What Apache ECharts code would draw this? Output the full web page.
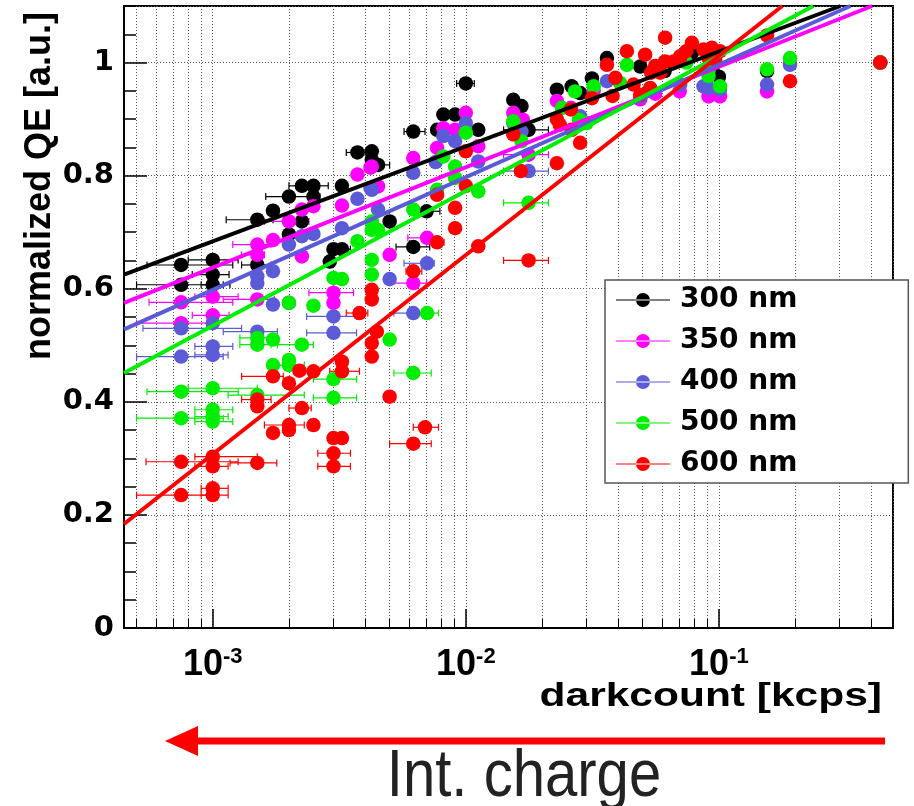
<!DOCTYPE html>
<html>
<head>
<meta charset="utf-8">
<script src="https://cdn.jsdelivr.net/npm/echarts/dist/echarts.min.js"></script>
<style>
  html, body { margin: 0; padding: 0; background: #fff; }
  #qe_chart { width: 914px; height: 806px; }
</style>
</head>
<body>
<div id="qe_chart"></div>
<script>
// 图例名称
var names = ['300 nm', '350 nm', '400 nm', '500 nm', '600 nm'];

// 每个点: [darkcount, QE] 或 [darkcount, QE, 误差下限, 误差上限]
var qe300 = [
  [7.5e-4,0.642,5.5e-4,1.2e-3],[7.5e-4,0.607,5.0e-4,1.17e-3],[1.0e-3,0.651,8.0e-4,1.26e-3],
  [1.0e-3,0.625,8.3e-4,1.16e-3],[1.0e-3,0.607,9.0e-4,1.1e-3],[1.5e-3,0.642,1.3e-3,1.7e-3],
  [1.5e-3,0.722,1.13e-3,1.73e-3],[1.73e-3,0.738],[2.0e-3,0.763,1.62e-3,2.65e-3],
  [2.25e-3,0.782,2.0e-3,2.62e-3],[2.5e-3,0.782,2.2e-3,2.86e-3],[3.24e-3,0.782],[2.5e-3,0.763],
  [2.25e-3,0.719],[2.0e-3,0.696],[3.0e-3,0.670],[3.24e-3,0.670,2.9e-3,3.5e-3],[2.9e-3,0.648],
  [3.73e-3,0.841,3.37e-3,4.0e-3],[4.25e-3,0.843],[4.25e-3,0.828],[4.5e-3,0.819,4.2e-3,5.0e-3],
  [5.0e-3,0.719],[6.2e-3,0.878,5.7e-3,6.9e-3],[6.2e-3,0.674,5.3e-3,7.2e-3],[7.0e-3,0.737,6.2e-3,7.9e-3],
  [7.7e-3,0.881],[8.15e-3,0.908],[9.07e-3,0.908],[1.0e-2,0.963,9.2e-3,1.08e-2],[1.12e-2,0.881],
  [1.54e-2,0.934],[1.66e-2,0.923],[1.77e-2,0.881,1.41e-2,2.12e-2],[2.29e-2,0.952],[2.62e-2,0.958],
  [2.83e-2,0.946],[3.15e-2,0.972],[3.61e-2,1.008],[4.89e-2,0.993],[6.1e-2,0.985],[7.82e-2,1.017],
  [9.4e-2,0.99],[0.1,0.975],[0.155,0.985],[0.434,1.0]
];
var qe350 = [
  [7.5e-4,0.576,5.6e-4,1.2e-3],[7.5e-4,0.539,5.0e-4,9.5e-4],[1.0e-3,0.586,8.5e-4,1.26e-3],
  [1.0e-3,0.553,8.3e-4,1.16e-3],[1.5e-3,0.581,1.1e-3,1.75e-3],[1.5e-3,0.678,1.2e-3,1.7e-3],
  [1.5e-3,0.660,1.3e-3,1.6e-3],[1.73e-3,0.686],[2.0e-3,0.719,1.6e-3,2.4e-3],[2.25e-3,0.740],
  [2.5e-3,0.746],[2.25e-3,0.657],[3.24e-3,0.747],[3.0e-3,0.593,2.4e-3,3.6e-3],[3.0e-3,0.575],
  [3.73e-3,0.802],[4.2e-3,0.814],[4.25e-3,0.816],[4.5e-3,0.781],[5.0e-3,0.660],[6.2e-3,0.831],
  [6.2e-3,0.610,5.0e-3,7.0e-3],[7.03e-3,0.690,5.9e-3,7.3e-3],[7.7e-3,0.849],[8.15e-3,0.884],
  [9.07e-3,0.881],[1.0e-2,0.911],[1.12e-2,0.852],[1.54e-2,0.911],[1.68e-2,0.899],
  [1.77e-2,0.837,1.41e-2,2.12e-2],[2.29e-2,0.932],[2.6e-2,0.92],[3.2e-2,0.95],[4.89e-2,0.935],
  [5.6e-2,0.945],[7.0e-2,0.949],[9.1e-2,0.940],[0.101,0.940],[0.155,0.949],[0.191,0.999],[0.434,1.0]
];
var qe400 = [
  [7.5e-4,0.530,5.3e-4,1.3e-3],[7.5e-4,0.480,5.0e-4,1.1e-3],[1.0e-3,0.539],[1.0e-3,0.498,8.5e-4,1.2e-3],
  [1.0e-3,0.483,8.5e-4,1.15e-3],[1.5e-3,0.524,1.1e-3,1.8e-3],[1.5e-3,0.622],[1.5e-3,0.610],
  [1.73e-3,0.631],[1.73e-3,0.572],[2.0e-3,0.678],[2.0e-3,0.575],[2.25e-3,0.693],[2.5e-3,0.697],
  [3.24e-3,0.707],[3.0e-3,0.551,2.35e-3,3.7e-3],[3.0e-3,0.522,2.35e-3,3.7e-3],[3.73e-3,0.759],
  [4.2e-3,0.778],[4.25e-3,0.775],[4.5e-3,0.740],[5.0e-3,0.617],[6.2e-3,0.805],
  [6.2e-3,0.557,5.2e-3,7.0e-3],[7.03e-3,0.645,5.7e-3,7.5e-3],[7.6e-3,0.824],[8.15e-3,0.870],
  [9.07e-3,0.861],[1.0e-2,0.893],[1.12e-2,0.825],[1.54e-2,0.893],[1.66e-2,0.878],
  [1.77e-2,0.808,1.41e-2,2.12e-2],[2.83e-2,0.905],[3.61e-2,0.967],[4.89e-2,0.94],[5.35e-2,0.952],
  [7.03e-2,0.961],[8.69e-2,0.958],[9.1e-2,0.955],[0.101,0.952],[0.155,0.961],[0.191,0.996],[0.434,1.0]
];
var qe500 = [
  [7.5e-4,0.418,5.5e-4,1.26e-3],[7.5e-4,0.371,5.0e-4,1.1e-3],[1.0e-3,0.424,8.0e-4,1.5e-3],
  [1.0e-3,0.386,8.5e-4,1.2e-3],[1.0e-3,0.374,8.5e-4,1.15e-3],[1.0e-3,0.365,8.5e-4,1.2e-3],
  [1.5e-3,0.513,1.28e-3,1.7e-3],[1.5e-3,0.501,1.28e-3,1.7e-3],[1.73e-3,0.510],[2.25e-3,0.501,1.8e-3,2.5e-3],
  [1.73e-3,0.465],[2.0e-3,0.474],[2.0e-3,0.465,1.7e-3,2.3e-3],[1.5e-3,0.412,1.15e-3,2.3e-3],
  [3.0e-3,0.44,2.5e-3,3.7e-3],[3.24e-3,0.454],[3.0e-3,0.407,2.5e-3,3.7e-3],[2.0e-3,0.575],[2.5e-3,0.570],
  [3.0e-3,0.619],[3.24e-3,0.617],[4.25e-3,0.719],[3.73e-3,0.684],[4.25e-3,0.704],[4.25e-3,0.625],
  [4.25e-3,0.651],[4.5e-3,0.704],[5.0e-3,0.510],[6.2e-3,0.740],[6.2e-3,0.451,5.2e-3,7.3e-3],
  [7.03e-3,0.557,6.3e-3,7.8e-3],[7.7e-3,0.775],[8.15e-3,0.834],[9.07e-3,0.816],[9.07e-3,0.796],
  [1.0e-2,0.876],[1.12e-2,0.772],[1.54e-2,0.896],[1.66e-2,0.861],[1.77e-2,0.752,1.41e-2,2.12e-2],
  [2.4e-2,0.92],[2.7e-2,0.949],[2.8e-2,0.899],[3.0e-2,0.893],[3.2e-2,0.958],[4.07e-2,0.964],
  [4.33e-2,0.996],[5.9e-2,0.988],[7.43e-2,1.0],[9.1e-2,0.985],[9.1e-2,0.976],[0.101,0.958],
  [0.155,0.988],[0.191,1.008],[0.434,1.0]
];
var qe600 = [
  [7.5e-4,0.294,5.45e-4,1.26e-3],[1.0e-3,0.303,8.5e-4,1.5e-3],[1.0e-3,0.286,8.5e-4,1.15e-3],
  [7.5e-4,0.235,5.0e-4,1.0e-3],[1.0e-3,0.247,9.0e-4,1.15e-3],[1.0e-3,0.235,9.0e-4,1.15e-3],
  [1.5e-3,0.292,1.17e-3,1.79e-3],[1.73e-3,0.345],[2.0e-3,0.359,1.6e-3,2.3e-3],[2.0e-3,0.350],
  [2.25e-3,0.389,2.0e-3,2.45e-3],[2.5e-3,0.359],[3.0e-3,0.336],[3.0e-3,0.309,2.6e-3,3.5e-3],
  [3.0e-3,0.286,2.6e-3,3.5e-3],[3.24e-3,0.336],[1.5e-3,0.404,1.3e-3,1.7e-3],[1.5e-3,0.392],
  [1.73e-3,0.445,1.3e-3,1.9e-3],[2.0e-3,0.433],[2.2e-3,0.455],[2.5e-3,0.454],[3.24e-3,0.471],
  [3.24e-3,0.454,2.9e-3,3.8e-3],[4.25e-3,0.480],[4.25e-3,0.504],[4.45e-3,0.524],
  [3.8e-3,0.557,3.37e-3,4.1e-3],[4.25e-3,0.581],[4.25e-3,0.598],[5.0e-3,0.409],
  [6.9e-3,0.355,6.2e-3,7.8e-3],[6.2e-3,0.326,5.0e-3,7.3e-3],[6.2e-3,0.631,5.8e-3,6.7e-3],[7.7e-3,0.766],
  [7.7e-3,0.682,7.0e-3,8.2e-3],[9.07e-3,0.743],[9.07e-3,0.707],[1.0e-2,0.843],[1.0e-2,0.782],
  [1.12e-2,0.675],[1.54e-2,0.873],[1.65e-2,0.808],[1.77e-2,0.650,1.41e-2,2.12e-2],[2.29e-2,0.822],
  [2.29e-2,0.90],[2.35e-2,0.89],[2.62e-2,0.881],[2.6e-2,0.917],[2.83e-2,0.858],[3.15e-2,0.937],
  [3.61e-2,0.996],[3.9e-2,0.973],[3.8e-2,0.941],[4.33e-2,1.02],[4.6e-2,0.961],[4.89e-2,0.943],
  [5.11e-2,1.014],[5.35e-2,0.955],[5.4e-2,0.982],[5.6e-2,0.994],[5.86e-2,0.982],[6.13e-2,1.044],
  [6.13e-2,1.002],[6.62e-2,1.002],[7.03e-2,1.011],[7.03e-2,1.008],[7.43e-2,1.02],[7.82e-2,1.035],
  [8.69e-2,1.023],[9.38e-2,1.026],[9.67e-2,1.005],[9.1e-2,1.008],[0.101,1.02],[0.155,1.048],
  [0.191,0.967],[0.434,1.0]
];

// 拟合直线: 左端点与上边界交点
var fit300 = [[4.46e-4,0.625],[0.302,1.1]];
var fit350 = [[4.46e-4,0.575],[0.403,1.1]];
var fit400 = [[4.46e-4,0.528],[0.331,1.1]];
var fit500 = [[4.46e-4,0.451],[0.236,1.1]];
var fit600 = [[4.46e-4,0.184],[0.178,1.1]];

// 坐标轴范围
var xRange = [4.46e-4, 0.4875];
var yRange = [0, 1.1];

var colors = ['#000000', '#ff00ff', '#5b5bd8', '#00ee00', '#ff0000'];
var allPoints = [qe300, qe350, qe400, qe500, qe600];
var allFits = [fit300, fit350, fit400, fit500, fit600];

var qe_chart = echarts.init(document.getElementById('qe_chart'));

// 误差棒
function renderErr(params, api) {
  var y = api.value(1);
  var p0 = api.coord([api.value(2), y]);
  var p1 = api.coord([api.value(3), y]);
  var st = { stroke: api.visual('color'), lineWidth: 1.2 };
  return {
    type: 'group',
    children: [
      { type: 'line', shape: { x1: p0[0], y1: p0[1], x2: p1[0], y2: p1[1] }, style: st },
      { type: 'line', shape: { x1: p0[0], y1: p0[1] - 3.5, x2: p0[0], y2: p0[1] + 3.5 }, style: st },
      { type: 'line', shape: { x1: p1[0], y1: p1[1] - 3.5, x2: p1[0], y2: p1[1] + 3.5 }, style: st }
    ]
  };
}

var series = [];
for (var i = 0; i < names.length; i++) {
  var withErr = allPoints[i].filter(function (p) { return p.length > 2; });
  series.push({
    name: names[i] + ' err', type: 'custom', renderItem: renderErr, clip: true, silent: true,
    itemStyle: { color: colors[i] }, encode: { x: 0, y: 1 }, data: withErr
  });
  series.push({
    name: names[i], type: 'scatter', symbol: 'circle', symbolSize: 14.5, silent: true,
    itemStyle: { color: colors[i], opacity: 1 }, encode: { x: 0, y: 1 }, data: allPoints[i]
  });
  series.push({
    name: names[i] + ' fit', type: 'line', symbol: 'none', silent: true, clip: true,
    lineStyle: { color: colors[i], width: 4 }, data: allFits[i]
  });
}

var legendIcon = 'path://M0,6.5H54V7.5H0Z M20,7a7,7 0 1,0 14,0a7,7 0 1,0 -14,0Z';
var dotted = { color: '#555', width: 1, type: [1, 2] };
var boldFont = 'DejaVu Sans';

var option = {
  animation: false,
  backgroundColor: '#fff',
  grid: { left: 124, top: 6, right: 21, bottom: 178, show: true, borderColor: '#000', borderWidth: 2 },
  xAxis: {
    type: 'log', logBase: 10, min: xRange[0], max: xRange[1],
    axisLine: { lineStyle: { color: '#000', width: 2 } },
    axisTick: { inside: true, length: 19, lineStyle: { color: '#000', width: 1.5 } },
    minorTick: { show: true, splitNumber: 9, length: 9, lineStyle: { color: '#000', width: 1 } },
    splitLine: { show: true, lineStyle: dotted },
    minorSplitLine: { show: true, lineStyle: dotted },
    axisLabel: {
      showMinLabel: false, showMaxLabel: false, margin: 18,
      formatter: function (v) { return '{b|10}{s|' + Math.round(Math.log10(v)) + '}'; },
      rich: {
        b: { fontFamily: 'Liberation Sans', fontWeight: 'bold', fontSize: 36, color: '#000', lineHeight: 38 },
        s: { fontFamily: 'Liberation Sans', fontWeight: 'bold', fontSize: 22, color: '#000', verticalAlign: 'top', lineHeight: 38 }
      }
    }
  },
  yAxis: [{
    type: 'value', min: yRange[0], max: yRange[1], interval: 0.05,
    axisLine: { show: true, lineStyle: { color: '#000', width: 2 } },
    axisTick: { inside: true, length: 12, lineStyle: { color: '#000', width: 1.5 } },
    axisLabel: { show: false }, splitLine: { show: false }
  }, {
    type: 'value', min: yRange[0], max: yRange[1], interval: 0.2, position: 'left',
    axisLine: { show: false },
    axisTick: { inside: true, length: 23, lineStyle: { color: '#000', width: 1.5 } },
    splitLine: { show: true, lineStyle: dotted },
    axisLabel: {
      showMaxLabel: false, margin: 10, color: '#000',
      fontFamily: boldFont, fontWeight: 'bold', fontSize: 29,
      formatter: function (v) { return String(Math.round(v * 10) / 10); }
    }
  }],
  legend: {
    orient: 'vertical', left: 605, top: 280, padding: [5, 111, 4, 11], itemGap: 11,
    itemWidth: 54, itemHeight: 14, backgroundColor: '#fff', borderColor: '#555', borderWidth: 1.5,
    selectedMode: false,
    textStyle: { fontFamily: boldFont, fontWeight: 'bold', fontSize: 28, color: '#000', lineHeight: 30, padding: [0, 0, 0, 5] },
    data: names.map(function (n) { return { name: n, icon: legendIcon }; })
  },
  graphic: [
    {
      type: 'text', x: 40, y: 186, rotation: Math.PI / 2,
      style: { text: 'normalized QE [a.u.]', font: 'bold 36px "Liberation Sans"', fill: '#000', textAlign: 'center', textVerticalAlign: 'middle' }
    },
    {
      type: 'text', x: 882, y: 697, scaleX: 1.25,
      style: { text: 'darkcount [kcps]', font: 'bold 34px "Liberation Sans"', fill: '#000', textAlign: 'right', textVerticalAlign: 'middle' }
    },
    { type: 'line', shape: { x1: 885, y1: 741, x2: 195, y2: 741 }, style: { stroke: '#ff0000', lineWidth: 7 } },
    { type: 'polygon', shape: { points: [[165, 741], [198, 726], [198, 756]] }, style: { fill: '#ff0000' } },
    {
      type: 'text', x: 524, y: 778, scaleX: 0.88,
      style: { text: 'Int. charge', font: '66px "Liberation Sans"', fill: '#222', textAlign: 'center', textVerticalAlign: 'middle' }
    }
  ],
  series: series
};

qe_chart.setOption(option);
</script>
</body>
</html>
